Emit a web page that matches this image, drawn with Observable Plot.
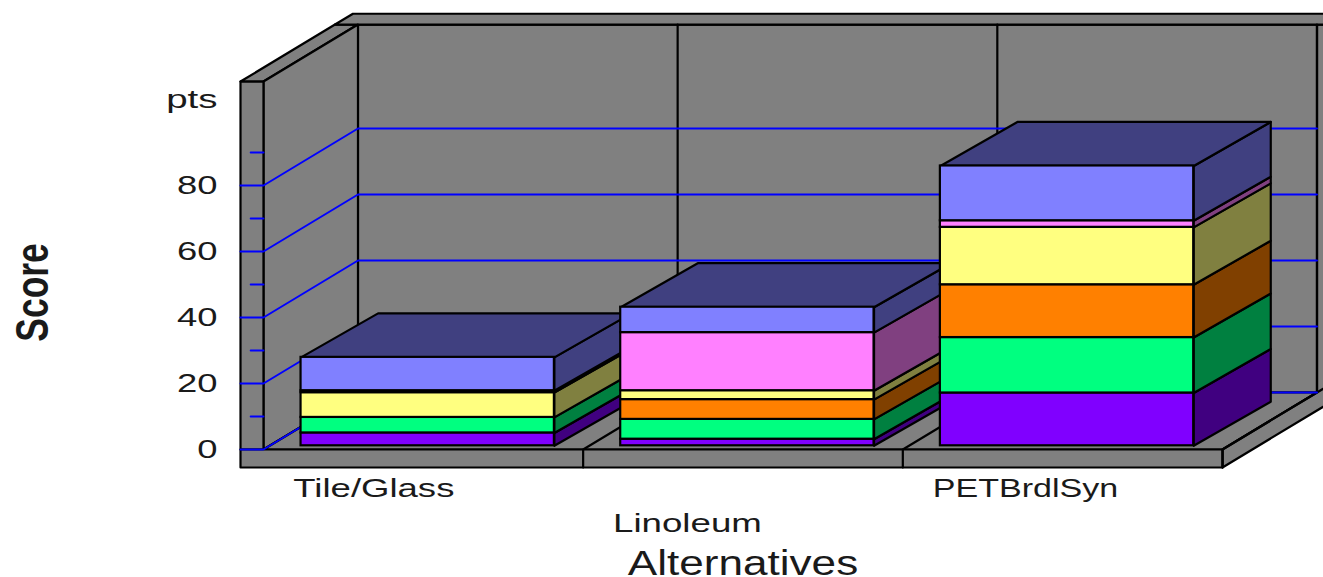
<!DOCTYPE html>
<html>
<head>
<meta charset="utf-8">
<script src="https://cdn.jsdelivr.net/npm/d3@7"></script>
<script src="https://cdn.jsdelivr.net/npm/@observablehq/plot@0.6"></script>
<style>
html,body{margin:0;padding:0;background:#fff;overflow:hidden}
svg{display:block}
</style>
</head>
<body>
<div id="chart"></div>
<script>
// ---- values ----
const categories = ["Tile/Glass", "Linoleum", "PETBrdlSyn"];
const layerFront = ["#8000ff", "#00ff80", "#ff8000", "#ffff80", "#ff80ff", "#8080ff"];
const layerSide  = ["#400080", "#008040", "#804000", "#808040", "#804080", "#404080"];
const tileGlass  = [3.9, 4.7, 0, 7.5, 0.6, 10.1];
const linoleum   = [2.0, 6.0, 6.0, 2.7, 17.6, 7.7];
const petBrdlSyn = [16.0, 16.8, 16.0, 17.4, 2.0, 16.6];
const seriesByCategory = [tileGlass, linoleum, petBrdlSyn];
const majorTicks = [0, 20, 40, 60, 80];
const minorTicks = [10, 30, 50, 70, 90];

// ---- oblique view of the chart box, all in data units ----
const wallColor = "#808080", gridColor = "#0000ff", ink = "#000", textInk = "#1a1a1a";
const depthX = 0.2956, depthY = 17.27;      // shift of the rear plane
const rear = 1.19;                          // rear face of the back slab
const wallTop = 111.5, floorDrop = -5.45, wallThick = -0.0719, slots = 3, far = 3.5;
const P = (x, v, z = 0) => ({x: x + z * depthX, y: v + z * depthY});
const barLeft = 0.1175, barWidth = 0.7925, barLift = 1.12, barDx = 0.241, barDy = 13.33;

function polys(list) {
  return list.flatMap((p, id) => [...p.pts, p.closed === false ? null : p.pts[0]]
    .filter(Boolean).map((q) => ({...q, id, fill: p.fill})));
}
const L = wallThick, T = wallTop, F = floorDrop;
const shell = polys([
  {fill: wallColor, pts: [{x: far, y: P(0, T, 1).y}, {x: far, y: P(0, 0, 1).y - (far - P(slots, 0, 1).x) * depthY / depthX}, P(slots, 0, 1), P(slots, T, 1)]},
  {fill: wallColor, pts: [P(0, T, 1), P(slots, T, 1), P(slots, 0, 1), P(0, 0, 1)]},
  {fill: wallColor, pts: [P(L, T, 0), P(L, T, 1), P(0, T, 1), P(0, T, 0)]},
  {fill: wallColor, pts: [P(L, T, 1), P(L, T, rear), {x: far, y: P(0, T, rear).y}, {x: far, y: P(0, T, 1).y}]},
  {fill: wallColor, pts: [P(0, T, 0), P(0, T, 1), P(0, 0, 1), P(0, 0, 0)]},
  {fill: wallColor, pts: [P(L, T, 0), P(0, T, 0), P(0, 0, 0), P(L, 0, 0)]},
  {fill: wallColor, pts: [P(0, 0, 0), P(0, 0, 1), P(slots, 0, 1), P(slots, 0, 0)]},
  {fill: wallColor, pts: [P(slots, 0, 0), P(slots, 0, rear), P(slots, F, rear), P(slots, F, 0)]},
  {fill: wallColor, pts: [P(L, 0, 0), P(slots, 0, 0), P(slots, F, 0), P(L, F, 0)]},
  // seams: slot dividers across the floor and up the back wall
  ...d3.range(1, slots + 1).map((s) => ({fill: "none", closed: false, pts: [P(s, F, 0), P(s, 0, 0), P(s, 0, 1), P(s, T, 1)]}))
]);
const grid = majorTicks.flatMap((v, id) => [P(L, v, 0), P(0, v, 0), P(0, v, 1), P(slots, v, 1)].map((q) => ({...q, id})));
const minor = minorTicks.flatMap((v, id) => [{x: -0.04, y: v}, {x: 0, y: v}].map((q) => ({...q, id})));

const barMarks = seriesByCategory.flatMap((values, c) => {
  const x0 = c + barLeft, x1 = x0 + barWidth;
  let acc = barLift;
  const fronts = [], sides = [];
  values.forEach((val, i) => {
    if (val <= 0) return;
    const y1 = acc, y2 = acc + val; acc = y2;
    fronts.push({x1: x0, x2: x1, y1, y2, fill: layerFront[i]});
    sides.push({fill: layerSide[i], pts: [{x: x1, y: y1}, {x: x1 + barDx, y: y1 + barDy}, {x: x1 + barDx, y: y2 + barDy}, {x: x1, y: y2}]});
  });
  sides.push({fill: layerSide[5], pts: [{x: x0, y: acc}, {x: x0 + barDx, y: acc + barDy}, {x: x1 + barDx, y: acc + barDy}, {x: x1, y: acc}]});
  const poly = polys(sides);
  return [
    Plot.line(poly, {x: "x", y: "y", z: "id", fill: "fill", stroke: ink, strokeWidth: 2.2}),
    Plot.rect(fronts, {x1: "x1", x2: "x2", y1: "y1", y2: "y2", fill: "fill", stroke: ink, strokeWidth: 2.2})
  ];
});

const xLabels = categories.map((name, i) => ({name, x: i + 0.0935, y: i === 1 ? -22.4 : -11.8}));

const plot = Plot.plot({
  width: 1323, height: 577,
  marginLeft: 240, marginRight: 0, marginTop: 0, marginBottom: 0,
  style: {background: "#fff", fontFamily: "'Liberation Sans', Arial, sans-serif"},
  x: {domain: [-0.0719, 3.316], axis: null},
  y: {domain: [-38.79, 136.06], axis: null},
  color: {type: "identity"},
  marks: [
    Plot.line(shell, {x: "x", y: "y", z: "id", fill: "fill", stroke: ink, strokeWidth: 2.2}),
    Plot.line(grid, {x: "x", y: "y", z: "id", stroke: gridColor, strokeWidth: 2}),
    Plot.line(minor, {x: "x", y: "y", z: "id", stroke: gridColor, strokeWidth: 2}),
    ...barMarks,
    Plot.axisY({ticks: majorTicks, tickSize: 0, tickPadding: 23, fontSize: 26, fill: textInk, label: null}),
    Plot.text(["pts"], {x: -0.144, y: 106, text: (d) => d, textAnchor: "end", fontSize: 26, fill: textInk}),
    Plot.text(xLabels, {x: "x", y: "y", text: "name", textAnchor: "start", fontSize: 26, fill: textInk}),
    Plot.text(["Alternatives"], {x: 1.5, y: -34.5, text: (d) => d, textAnchor: "middle", fontSize: 35, fill: textInk}),
    Plot.text(["Score"], {x: -0.72, y: 47.6, text: (d) => d, rotate: -90, fontSize: 46, fontWeight: "bold", fill: textInk})
  ]
});
document.getElementById("chart").appendChild(plot);

// the original lettering is stretched (or squeezed) along its baseline
const stretch = {"Alternatives": 1.26, "Score": 0.77, "pts": 1.48, "Tile/Glass": 1.405, "Linoleum": 1.41, "PETBrdlSyn": 1.31};
d3.select(plot).selectAll("text").each(function () {
  const k = stretch[this.textContent] ?? 1.4;
  this.setAttribute("textLength", this.getComputedTextLength() * k);
  this.setAttribute("lengthAdjust", "spacingAndGlyphs");
});
</script>
</body>
</html>
